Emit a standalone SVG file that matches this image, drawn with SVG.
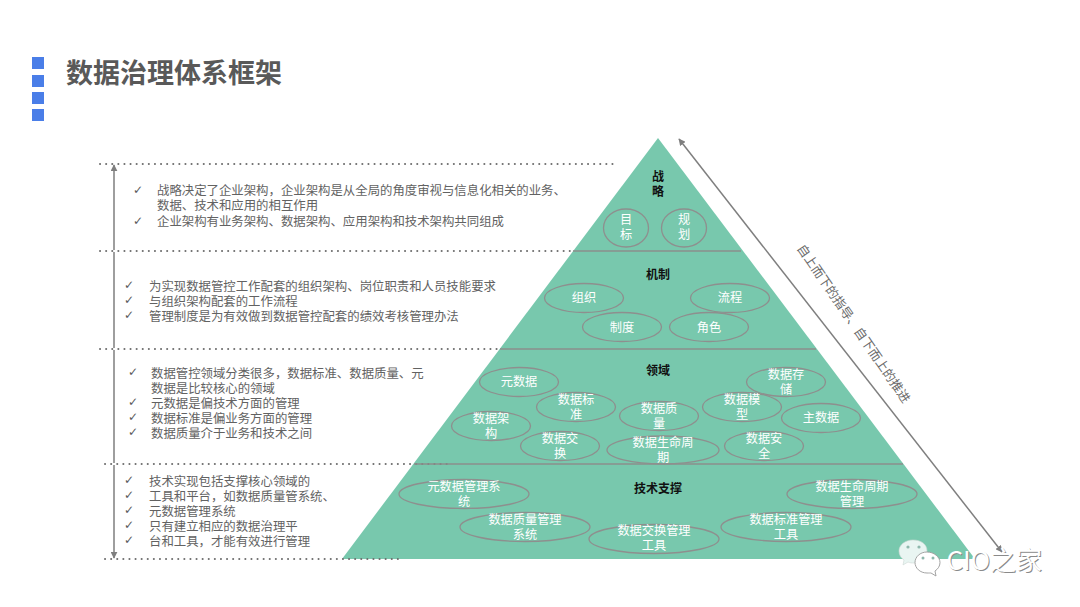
<svg xmlns="http://www.w3.org/2000/svg" width="1080" height="607" viewBox="0 0 1080 607">
<style>
text{font-family:"Noto Sans CJK SC","Liberation Sans",sans-serif}
.b{font-size:12.4px;fill:#626262}
.c{font-size:12px;fill:#595959;font-family:"DejaVu Sans",sans-serif}
.n{font-size:12.2px;fill:#fff;text-anchor:middle}
.h{font-size:12px;fill:#111;font-weight:700;text-anchor:middle}
.e{fill:none;stroke:#8e8f8e;stroke-width:1.3}
.sq{fill:#4a7ee8}
.dot{stroke:#6f6f6f;stroke-width:2;stroke-linecap:round;stroke-dasharray:0.1 6;fill:none}
.sep{stroke:#8a8f8c;stroke-width:1.5;fill:none}
.arr{stroke:#7f7f7f;stroke-width:1.5;fill:none;marker-start:url(#a);marker-end:url(#a)}
</style>
<defs>
<marker id="a" viewBox="0 0 10 10" refX="9" refY="5" markerWidth="7" markerHeight="7" orient="auto-start-reverse" markerUnits="userSpaceOnUse"><path d="M0 0L10 5L0 10Z" fill="#7f7f7f"/></marker>
</defs>
<rect width="1080" height="607" fill="#fff"/>
<g id="title">
<rect class="sq" x="32" y="57" width="12" height="12"/><rect class="sq" x="32" y="75" width="12" height="12"/><rect class="sq" x="32" y="92" width="12" height="12"/><rect class="sq" x="32" y="109" width="12" height="12"/>
<text x="66" y="83" font-size="27" font-weight="700" fill="#595959">数据治理体系框架</text>
</g>
<g id="pyramid"><path d="M658 138L342 559H975Z" fill="#78c8ad"/></g>
<g id="connectors">
<path class="dot" d="M100 164H615M100 251H572M100 349H500M105 464H450M105 559H402"/>
<path class="sep" d="M573 251H741M500 349H816M414 464H903"/>
<path class="arr" d="M114 165V250M114 252V348M114 350V463M114 465V558"/>
<path class="arr" d="M679 139L1002 552"/>
</g>
<g id="text-strategy">
<text class="c" x="133" y="194">✓</text><text class="b" x="157" y="195">战略决定了企业架构，企业架构是从全局的角度审视与信息化相关的业务、</text>
<text class="b" x="157" y="210">数据、技术和应用的相互作用</text>
<text class="c" x="133" y="225">✓</text><text class="b" x="157" y="226">企业架构有业务架构、数据架构、应用架构和技术架构共同组成</text>
</g>
<g id="text-mechanism">
<text class="c" x="124" y="289">✓</text><text class="b" x="149" y="291">为实现数据管控工作配套的组织架构、岗位职责和人员技能要求</text>
<text class="c" x="124" y="304">✓</text><text class="b" x="149" y="306">与组织架构配套的工作流程</text>
<text class="c" x="124" y="319">✓</text><text class="b" x="149" y="321">管理制度是为有效做到数据管控配套的绩效考核管理办法</text>
</g>
<g id="text-domain">
<text class="c" x="128" y="376">✓</text><text class="b" x="151" y="378">数据管控领域分类很多，数据标准、数据质量、元</text>
<text class="b" x="151" y="393">数据是比较核心的领域</text>
<text class="c" x="128" y="406">✓</text><text class="b" x="151" y="408">元数据是偏技术方面的管理</text>
<text class="c" x="128" y="421">✓</text><text class="b" x="151" y="423">数据标准是偏业务方面的管理</text>
<text class="c" x="128" y="436">✓</text><text class="b" x="151" y="438">数据质量介于业务和技术之间</text>
</g>
<g id="text-tech">
<text class="c" x="124" y="484">✓</text><text class="b" x="149" y="486">技术实现包括支撑核心领域的</text>
<text class="c" x="124" y="499">✓</text><text class="b" x="149" y="501">工具和平台，如数据质量管系统、</text>
<text class="c" x="124" y="514">✓</text><text class="b" x="149" y="516">元数据管理系统</text>
<text class="c" x="124" y="529">✓</text><text class="b" x="149" y="531">只有建立相应的数据治理平</text>
<text class="c" x="124" y="544">✓</text><text class="b" x="149" y="546">台和工具，才能有效进行管理</text>
</g>
<g id="head-strategy"><text class="h" x="658" y="181">战</text><text class="h" x="658" y="196">略</text></g>
<g id="head-mechanism"><text class="h" x="658" y="279">机制</text></g>
<g id="head-domain"><text class="h" x="658" y="375">领域</text></g>
<g id="head-tech"><text class="h" x="658" y="493">技术支撑</text></g>
<g id="n-goal"><ellipse class="e" cx="626" cy="228" rx="22.5" ry="19"/><text class="n" x="626" y="224">目</text><text class="n" x="626" y="239">标</text></g>
<g id="n-plan"><ellipse class="e" cx="684" cy="228" rx="22.5" ry="19"/><text class="n" x="684" y="224">规</text><text class="n" x="684" y="239">划</text></g>
<g id="n-org"><ellipse class="e" cx="584" cy="298" rx="39.5" ry="14.5"/><text class="n" x="584" y="302">组织</text></g>
<g id="n-flow"><ellipse class="e" cx="730" cy="298" rx="39.5" ry="14.5"/><text class="n" x="730" y="302">流程</text></g>
<g id="n-rule"><ellipse class="e" cx="622" cy="327" rx="39.5" ry="14.5"/><text class="n" x="622" y="332">制度</text></g>
<g id="n-role"><ellipse class="e" cx="709" cy="327" rx="39.5" ry="14.5"/><text class="n" x="709" y="332">角色</text></g>
<g id="n-meta"><ellipse class="e" cx="519" cy="382" rx="39.5" ry="14.5"/><text class="n" x="519" y="386">元数据</text></g>
<g id="n-std"><ellipse class="e" cx="576" cy="407" rx="39.5" ry="14.5"/><text class="n" x="576" y="404">数据标</text><text class="n" x="576" y="419">准</text></g>
<g id="n-arch"><ellipse class="e" cx="491" cy="426" rx="39.5" ry="14.5"/><text class="n" x="491" y="423">数据架</text><text class="n" x="491" y="438">构</text></g>
<g id="n-exch"><ellipse class="e" cx="560" cy="446" rx="39.5" ry="14.5"/><text class="n" x="560" y="443">数据交</text><text class="n" x="560" y="458">换</text></g>
<g id="n-qual"><ellipse class="e" cx="659" cy="416" rx="39.5" ry="14.5"/><text class="n" x="659" y="413">数据质</text><text class="n" x="659" y="428">量</text></g>
<g id="n-life"><ellipse class="e" cx="663" cy="450" rx="56" ry="14"/><text class="n" x="663" y="447">数据生命周</text><text class="n" x="663" y="462">期</text></g>
<g id="n-model"><ellipse class="e" cx="742" cy="407" rx="39.5" ry="14.5"/><text class="n" x="742" y="404">数据模</text><text class="n" x="742" y="419">型</text></g>
<g id="n-store"><ellipse class="e" cx="786" cy="382" rx="39.5" ry="14.5"/><text class="n" x="786" y="379">数据存</text><text class="n" x="786" y="394">储</text></g>
<g id="n-master"><ellipse class="e" cx="821" cy="418" rx="39.5" ry="14.5"/><text class="n" x="821" y="422">主数据</text></g>
<g id="n-sec"><ellipse class="e" cx="764" cy="446" rx="39.5" ry="14.5"/><text class="n" x="764" y="443">数据安</text><text class="n" x="764" y="458">全</text></g>
<g id="n-t-meta"><ellipse class="e" cx="464" cy="494" rx="65" ry="14.5"/><text class="n" x="464" y="491">元数据管理系</text><text class="n" x="464" y="506">统</text></g>
<g id="n-t-qual"><ellipse class="e" cx="525" cy="527" rx="65" ry="14.5"/><text class="n" x="525" y="524">数据质量管理</text><text class="n" x="525" y="539">系统</text></g>
<g id="n-t-exch"><ellipse class="e" cx="654" cy="539" rx="65" ry="14.5"/><text class="n" x="654" y="535">数据交换管理</text><text class="n" x="654" y="550">工具</text></g>
<g id="n-t-std"><ellipse class="e" cx="786" cy="527" rx="65" ry="14.5"/><text class="n" x="786" y="524">数据标准管理</text><text class="n" x="786" y="539">工具</text></g>
<g id="n-t-life"><ellipse class="e" cx="852" cy="494" rx="65" ry="14.5"/><text class="n" x="852" y="491">数据生命周期</text><text class="n" x="852" y="506">管理</text></g>
<g id="side-label"><text x="850" y="326" font-size="12.6" fill="#6a6a6a" text-anchor="middle" transform="rotate(55.500 850 326)">自上而下的指导、自下而上的推进</text></g>
<g id="watermark">
<path d="M913 540c-8 0-14 5-14 11 0 4 2 7 5 9l-1 5 5-3c2 1 4 1 6 1 7 0 13-5 13-12s-6-11-14-11z" fill="#e9f5f2" stroke="#cfd8d5" stroke-width=".6"/>
<circle cx="908" cy="547" r="1.6" fill="#8fb8ad"/><circle cx="919" cy="547" r="1.6" fill="#8fb8ad"/>
<path d="M927 552c-7 0-12 5-12 10.500s5 10.500 12 10.500c2 0 3 0 4 0l5 3-1-5c3-2 5-5 5-8.500 0-5.500-6-10.500-13-10.500z" fill="#fff" stroke="#9a9a9a" stroke-width=".9"/>
<circle cx="923" cy="558" r="1.5" fill="#8fb8ad"/><circle cx="933" cy="558" r="1.5" fill="#8fb8ad"/>
<text x="947.500" y="570.500" font-size="26" fill="#8a8a8a">CIO之家</text>
<text x="946.500" y="569.500" font-size="26" fill="#fff">CIO之家</text>
</g>
</svg>
